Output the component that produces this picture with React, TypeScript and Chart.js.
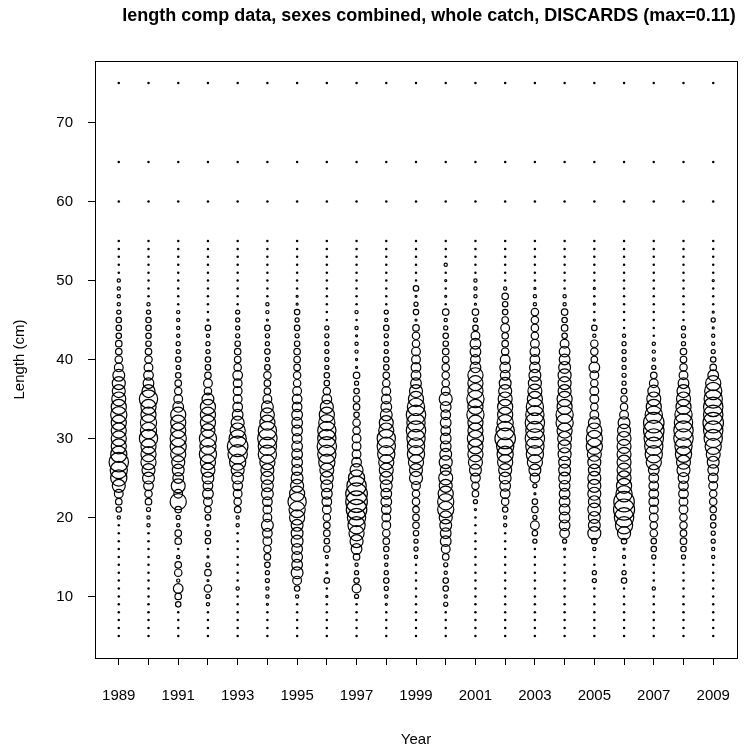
import React, { useEffect, useRef } from "react";
import { Chart, registerables } from "chart.js";

Chart.register(...registerables);

// ---------------- DATA ----------------
const YEARS = [1989, 1990, 1991, 1992, 1993, 1994, 1995, 1996, 1997, 1998, 1999, 2000, 2001, 2002, 2003, 2004, 2005, 2006, 2007, 2008, 2009];

// length bins (cm), one value per bin in each year's array below
const LENGTHS = [5, 6, 7, 8, 9, 10, 11, 12, 13, 14, 15, 16, 17, 18, 19, 20, 21, 22, 23, 24, 25, 26, 27, 28, 29, 30, 31, 32, 33, 34, 35, 36, 37, 38, 39, 40, 41, 42, 43, 44, 45, 46, 47, 48, 49, 50, 51, 52, 53, 54, 55];
// extra bins with no observations in any year
const EXTRA_LENGTHS = [60, 65, 75];

// observed proportions (per mille) by length bin, lengths 5..55
const P1989 = [0, 0, 0, 0, 0, 0, 0, 0, 0, 0, 0, 0, 0, 0, 0, 2.5, 7, 10, 18, 40, 62, 70, 89, 62, 54, 54, 54, 54, 62, 54, 46, 40, 40, 33, 18, 13, 10, 10, 7, 7, 7, 4, 2.5, 2.5, 2.5, 2.5, 0, 0, 0, 0, 0];
const P1990 = [0, 0, 0, 0, 0, 0, 0, 0, 0, 0, 0, 0, 0, 0, 2.5, 2.5, 4, 10, 13, 22, 33, 40, 54, 54, 54, 79, 62, 62, 54, 54, 79, 40, 27, 22, 18, 13, 10, 7, 7, 7, 7, 4, 2.5, 0, 0, 0, 0, 0, 0, 0, 0];
const P1991 = [0, 0, 0, 0, 7, 10, 22, 2.5, 13, 10, 2.5, 0, 10, 10, 2.5, 4, 10, 62, 18, 46, 27, 33, 40, 54, 62, 62, 54, 54, 54, 27, 18, 13, 10, 7, 4, 7, 4, 4, 2.5, 2.5, 2.5, 2.5, 0, 0, 0, 0, 0, 0, 0, 0, 0];
const P1992 = [0, 0, 0, 0, 2.5, 4, 13, 1, 10, 4, 1, 0, 7, 7, 1, 7, 10, 18, 27, 22, 33, 46, 54, 70, 62, 70, 46, 54, 54, 54, 33, 13, 18, 10, 7, 7, 4, 4, 2.5, 7, 1, 0, 0, 0, 0, 0, 0, 0, 0, 0, 0];
const P1993 = [0, 0, 0, 0, 0, 0, 2.5, 0, 0, 0, 0, 0, 0, 0, 2.5, 2.5, 10, 13, 18, 22, 33, 40, 62, 89, 99, 70, 54, 40, 27, 22, 18, 18, 18, 22, 13, 10, 10, 7, 4, 4, 4, 4, 0, 0, 0, 0, 0, 0, 0, 0, 0];
const P1994 = [0, 0, 0, 0, 1, 2.5, 2.5, 4, 4, 7, 10, 13, 18, 22, 33, 18, 18, 22, 33, 33, 40, 40, 54, 79, 79, 89, 79, 54, 46, 33, 18, 10, 10, 13, 7, 4, 7, 4, 4, 7, 1, 2.5, 2.5, 0, 0, 0, 0, 0, 0, 0, 0];
const P1995 = [0, 0, 0, 0, 0, 2.5, 7, 18, 33, 27, 27, 27, 33, 33, 33, 54, 62, 79, 54, 40, 33, 27, 27, 27, 27, 22, 27, 27, 27, 22, 22, 18, 13, 13, 10, 10, 10, 7, 4, 7, 4, 7, 1, 1, 0, 0, 0, 0, 0, 0, 0];
const P1996 = [0, 0, 0, 0, 0, 1, 0, 7, 1, 1, 2.5, 10, 7, 10, 10, 13, 18, 22, 27, 33, 40, 46, 62, 79, 89, 79, 79, 62, 54, 40, 22, 13, 7, 7, 4, 4, 4, 4, 4, 4, 0, 0, 0, 0, 0, 0, 0, 0, 0, 0, 0];
const P1997 = [0, 0, 0, 0, 0, 4, 18, 7, 4, 2.5, 10, 27, 40, 54, 70, 79, 99, 110, 110, 89, 62, 40, 22, 18, 18, 18, 13, 13, 7, 10, 10, 7, 4, 10, 1, 1, 2.5, 2.5, 1, 2.5, 0, 2.5, 0, 0, 0, 0, 0, 0, 0, 0, 0];
const P1998 = [0, 0, 0, 0, 1, 2.5, 4, 7, 4, 2.5, 4, 7, 10, 13, 18, 18, 22, 27, 27, 33, 40, 46, 54, 70, 79, 79, 54, 46, 33, 27, 22, 18, 13, 10, 7, 7, 4, 4, 4, 7, 2.5, 4, 0, 0, 0, 0, 0, 0, 0, 0, 0];
const P1999 = [0, 0, 0, 0, 0, 0, 0, 0, 0, 0, 2.5, 4, 4, 7, 10, 10, 10, 13, 13, 18, 40, 40, 54, 70, 70, 79, 89, 79, 89, 70, 54, 40, 27, 22, 22, 18, 18, 13, 13, 10, 1, 7, 4, 1, 7, 0, 0, 0, 0, 0, 0];
const P2000 = [0, 0, 0, 0, 4, 2.5, 7, 7, 2.5, 4, 10, 18, 27, 27, 33, 40, 62, 62, 54, 40, 46, 27, 40, 33, 27, 27, 22, 27, 22, 27, 40, 18, 13, 13, 13, 10, 10, 7, 7, 4, 2.5, 10, 0, 1, 0, 1, 0, 2.5, 0, 0, 0];
const P2001 = [0, 0, 0, 0, 0, 0, 0, 0, 0, 0, 0, 0, 0, 0, 0, 0, 1, 4, 10, 13, 22, 33, 46, 54, 54, 62, 54, 54, 70, 54, 70, 54, 54, 54, 27, 22, 27, 27, 18, 7, 4, 10, 1, 2.5, 2.5, 2.5, 0, 0, 0, 0, 0];
const P2002 = [0, 0, 0, 0, 0, 0, 0, 0, 0, 0, 0, 0, 0, 0, 2.5, 2.5, 7, 13, 22, 27, 33, 40, 54, 62, 70, 99, 79, 62, 54, 54, 46, 40, 33, 22, 27, 22, 13, 10, 10, 18, 10, 7, 7, 10, 2.5, 0, 0, 0, 0, 0, 0];
const P2003 = [0, 0, 0, 0, 0, 0, 0, 0, 0, 0, 0, 0, 4, 7, 18, 4, 10, 7, 1, 4, 22, 33, 54, 70, 79, 89, 79, 89, 79, 70, 54, 46, 40, 33, 27, 22, 22, 18, 13, 13, 13, 13, 2.5, 2.5, 1, 0, 0, 0, 0, 0, 0];
const P2004 = [0, 0, 0, 0, 0, 0, 0, 0, 0, 0, 0, 1, 4, 22, 27, 27, 27, 27, 27, 27, 33, 33, 33, 40, 40, 46, 54, 70, 70, 54, 54, 40, 40, 40, 33, 27, 27, 18, 7, 10, 7, 10, 2.5, 2.5, 0, 0, 0, 0, 0, 0, 0];
const P2005 = [0, 0, 0, 0, 0, 0, 0, 4, 4, 0, 0, 2.5, 7, 40, 33, 33, 40, 33, 40, 40, 40, 33, 40, 46, 62, 62, 54, 33, 18, 13, 18, 18, 13, 18, 27, 10, 13, 13, 2.5, 7, 1, 0, 1, 0, 1, 0, 0, 0, 0, 0, 0];
const P2006 = [0, 0, 0, 0, 0, 0, 0, 7, 4, 0, 2.5, 1, 7, 40, 70, 89, 105, 99, 62, 54, 46, 46, 46, 46, 46, 46, 40, 33, 18, 13, 10, 7, 4, 4, 4, 4, 4, 4, 2.5, 0, 0, 0, 0, 0, 0, 0, 0, 0, 0, 0, 0];
const P2007 = [0, 0, 0, 0, 0, 0, 2.5, 0, 0, 0, 4, 7, 7, 13, 13, 18, 18, 22, 22, 22, 22, 27, 54, 70, 79, 89, 99, 99, 70, 54, 46, 33, 18, 10, 4, 2.5, 2.5, 2.5, 0, 0, 0, 0, 0, 0, 0, 0, 0, 0, 0, 0, 0];
const P2008 = [0, 0, 0, 0, 0, 0, 0, 0, 0, 0, 4, 7, 10, 10, 13, 13, 18, 18, 22, 22, 27, 40, 46, 62, 70, 89, 89, 79, 70, 54, 46, 40, 27, 18, 13, 10, 10, 4, 4, 4, 0, 0, 0, 0, 0, 0, 0, 0, 0, 0, 0];
const P2009 = [0, 0, 0, 0, 0, 0, 0, 0, 0, 0, 2.5, 2.5, 4, 4, 7, 7, 10, 13, 13, 18, 22, 27, 33, 46, 62, 79, 89, 99, 89, 89, 79, 70, 54, 27, 10, 7, 4, 2.5, 2.5, 1, 4, 1, 0, 0, 0, 1, 0, 0, 0, 0, 0];

const COMPS = [P1989, P1990, P1991, P1992, P1993, P1994, P1995, P1996, P1997, P1998, P1999, P2000, P2001, P2002, P2003, P2004, P2005, P2006, P2007, P2008, P2009];
const MAX_PER_MILLE = 110; // max = 0.11

const X_TICKS = YEARS;
const X_LABELS = ["1989", "1991", "1993", "1995", "1997", "1999", "2001", "2003", "2005", "2007", "2009"];
const Y_TICKS = [10, 20, 30, 40, 50, 60, 70];

const TITLE = "length comp data, sexes combined, whole catch, DISCARDS (max=0.11)";
const X_TITLE = "Year";
const Y_TITLE = "Length (cm)";

// ---------------- STYLE ----------------
const W = 745;
const H = 752;
const FONT = "'Liberation Sans', Arial, Helvetica, sans-serif";
const RMAX = 10.8;

export default function App() {
  const ref = useRef<HTMLCanvasElement | null>(null);

  useEffect(() => {
    document.body.style.margin = "0";
    const canvas = ref.current;
    if (!canvas) return;

    const circles: any[] = [];
    const zeros: any[] = [];
    YEARS.forEach((yr, i) => {
      const comp = COMPS[i];
      LENGTHS.forEach((len, j) => {
        const v = comp[j] || 0;
        if (v > 0) circles.push({ x: yr, y: len, v });
        else zeros.push({ x: yr, y: len, v: 0 });
      });
      EXTRA_LENGTHS.forEach((len) => zeros.push({ x: yr, y: len, v: 0 }));
    });

    const framePlugin = {
      id: "frame",
      afterDraw(chart: any) {
        const { ctx, chartArea } = chart;
        const { left, right, top, bottom } = chartArea;
        ctx.save();
        ctx.strokeStyle = "#000";
        ctx.lineWidth = 1;
        ctx.strokeRect(Math.round(left) + 0.5, Math.round(top) + 0.5, Math.round(right - left), Math.round(bottom - top));
        ctx.fillStyle = "#000";
        ctx.textAlign = "center";
        ctx.textBaseline = "middle";
        ctx.font = `bold 18px ${FONT}`;
        ctx.fillText(TITLE, 429, 16);
        ctx.font = `15px ${FONT}`;
        ctx.fillText(X_TITLE, (left + right) / 2, 740);
        ctx.translate(20, (top + bottom) / 2);
        ctx.rotate(-Math.PI / 2);
        ctx.fillText(Y_TITLE, 0, 0);
        ctx.restore();
      },
    };

    const chart = new Chart(canvas, {
      type: "scatter",
      data: {
        datasets: [
          {
            label: "zero",
            data: zeros,
            pointRadius: 1.25,
            pointHoverRadius: 1.25,
            pointBackgroundColor: "#000",
            pointBorderWidth: 0,
          },
          {
            label: "obs",
            data: circles,
            pointRadius: (c: any) => RMAX * Math.sqrt((c.raw?.v ?? 0) / MAX_PER_MILLE),
            pointHoverRadius: (c: any) => RMAX * Math.sqrt((c.raw?.v ?? 0) / MAX_PER_MILLE),
            pointBackgroundColor: "rgba(0,0,0,0)",
            pointBorderColor: "#000",
            pointBorderWidth: 1.2,
          },
        ],
      },
      options: {
        responsive: false,
        animation: false,
        devicePixelRatio: 1,
        layout: { autoPadding: false, padding: { left: 0, right: 8, top: 61, bottom: 0 } },
        plugins: { legend: { display: false }, tooltip: { enabled: false }, title: { display: false } },
        scales: {
          x: {
            type: "linear",
            min: 1988.2,
            max: 2009.8,
            afterBuildTicks: (s: any) => {
              s.ticks = X_TICKS.map((v) => ({ value: v }));
            },
            afterFit: (s: any) => {
              s.height = H - 658;
              s.paddingLeft = 0;
              s.paddingRight = 0;
            },
            ticks: {
              autoSkip: false,
              maxRotation: 0,
              padding: 22,
              color: "#000",
              font: { family: FONT, size: 15 },
              callback: (v: any) => (X_LABELS.includes(String(v)) ? String(v) : ""),
            },
            grid: { display: true, drawOnChartArea: false, drawTicks: true, tickLength: 7, color: "#000", lineWidth: 1 },
            border: { display: false },
          },
          y: {
            type: "linear",
            min: 2.2,
            max: 77.8,
            afterBuildTicks: (s: any) => {
              s.ticks = Y_TICKS.map((v) => ({ value: v }));
            },
            afterFit: (s: any) => {
              s.width = 95;
              s.paddingTop = 0;
              s.paddingBottom = 0;
            },
            ticks: {
              padding: 15,
              color: "#000",
              font: { family: FONT, size: 15 },
              callback: (v: any) => String(v),
            },
            grid: { display: true, drawOnChartArea: false, drawTicks: true, tickLength: 7, color: "#000", lineWidth: 1 },
            border: { display: false },
          },
        },
      },
      plugins: [framePlugin],
    });

    return () => chart.destroy();
  }, []);

  return (
    <div style={{ width: W, height: H, background: "#fff" }}>
      <canvas ref={ref} width={W} height={H} style={{ display: "block", width: W, height: H }} />
    </div>
  );
}
